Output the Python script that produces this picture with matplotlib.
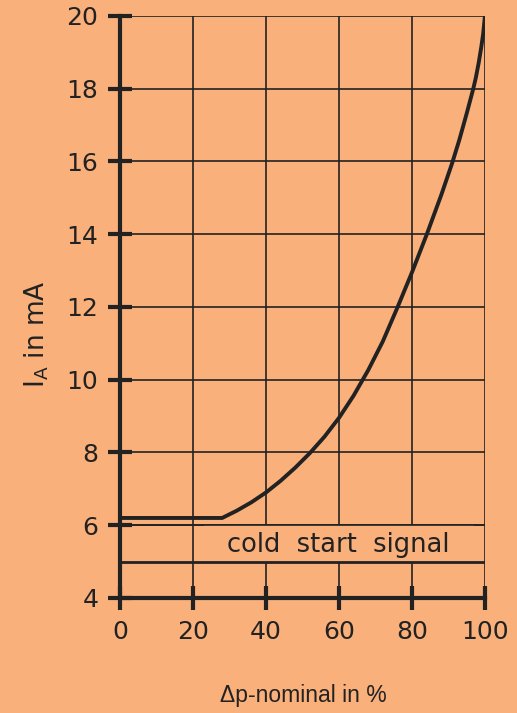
import matplotlib.pyplot as plt

# curve: delta p nominal (%) vs I_A (mA)
dp = [0, 28, 32, 36, 40, 44, 48, 52, 56, 60, 64, 68, 72, 76, 80, 84, 88,
      91, 93, 95, 96.8, 97.5, 98.3, 99, 99.5, 100]
ia = [6.2, 6.2, 6.4, 6.63, 6.9, 7.22, 7.58, 7.98, 8.43, 8.95, 9.56, 10.26, 11.05, 11.98, 12.95, 13.98, 15.07,
      15.95, 16.6, 17.32, 18.0, 18.3, 18.72, 19.15, 19.5, 20.0]

xticks = [0, 20, 40, 60, 80, 100]
yticks = [4, 6, 8, 10, 12, 14, 16, 18, 20]
cold_start_level = 5
cold_start_text = "cold  start  signal"

bg = "#F9B07B"
ink = "#222222"

fig = plt.figure(figsize=(5.17, 7.13), dpi=100, facecolor=bg)
ax = fig.add_axes([0.232, 0.1613, 0.706, 0.8163], facecolor=bg)

ax.set_xlim(0, 100)
ax.set_ylim(4, 20)
ax.set_xticks(xticks)
ax.set_yticks(yticks)

ax.grid(True, color=ink, linewidth=1.2, zorder=1)
ax.set_axisbelow(True)

# hide grid lines behind the label in the cold start band
ax.fill_between([23, 97], cold_start_level, 6, color=bg, zorder=1.5, linewidth=0)
ax.axhline(6, color=ink, linewidth=1.2, zorder=2)
ax.axhline(cold_start_level, color=ink, linewidth=2.0, zorder=2)
ax.text(59.7, 5.45, cold_start_text, ha="center", va="center", fontsize=18.5,
        color=ink, zorder=3)

ax.plot(dp, ia, color=ink, linewidth=2.8, solid_joinstyle="round", zorder=4)

for side in ["top", "right"]:
    ax.spines[side].set_visible(False)
for side in ["left", "bottom"]:
    ax.spines[side].set_linewidth(3)
    ax.spines[side].set_color(ink)

ax.tick_params(axis="both", direction="inout", length=17, width=3, color=ink,
               labelsize=18, labelcolor=ink)
ax.tick_params(axis="y", pad=7)
ax.tick_params(axis="x", pad=7)

ax.set_ylabel(r"$\mathregular{I_A}$ in mA", fontsize=19, color=ink)
ax.yaxis.set_label_coords(-0.19, 0.4536)
fig.text(0.586, 0.008, "Δp-nominal in %", ha="center", va="bottom",
         fontsize=16.5, color=ink, family="Liberation Sans")

fig.savefig("out.png", dpi=100, facecolor=bg)
